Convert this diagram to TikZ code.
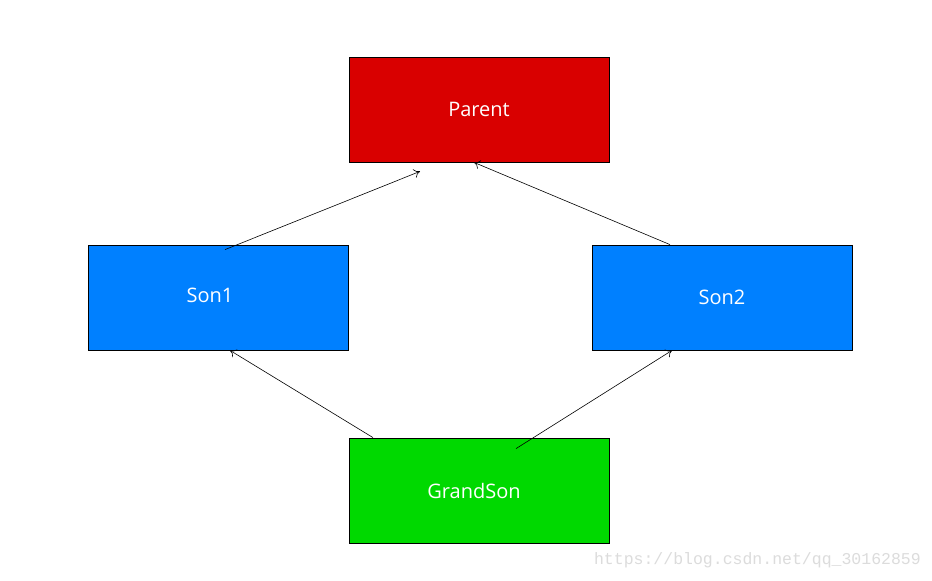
\documentclass[tikz,border=0pt]{standalone}
\usepackage{fontspec}
\setmainfont{Open Sans}
\newfontfamily\markfont{Liberation Mono}
\usepackage{tikz}
\usetikzlibrary{arrows.meta}
\definecolor{parentred}{HTML}{D90000}
\definecolor{sonblue}{HTML}{0080FF}
\definecolor{grandgreen}{HTML}{00D900}
\definecolor{markgray}{HTML}{DCDCDC}
\tikzset{>={To[length=6pt,width=9pt]}}
\tikzset{
  classbox/.style={draw=black, line width=0.8pt, minimum width=260pt, minimum height=105pt,
    inner sep=0pt, text=white, font=\fontsize{20}{24}\selectfont},
  inherit/.style={->, line width=0.6pt}
}

\begin{document}
\begin{tikzpicture}[x=1pt, y=-1pt]

  \useasboundingbox[fill=white] (0,0) rectangle (932,581);

  \node[classbox, fill=parentred] (parent) at (479,109.5) {Parent};
  \node[classbox, fill=sonblue] (son1) at (218,297.5) {\raisebox{5pt}{Son1\hspace{16pt}}};
  \node[classbox, fill=sonblue] (son2) at (722,297.5) {Son2};
  \node[classbox, fill=grandgreen] (grandson) at (479,490.5) {\hspace{-10pt}GrandSon};

  \draw[inherit] ([xshift=7pt, yshift=-5pt]son1.north) -- ([xshift=-59pt, yshift=-9pt]parent.south);
  \draw[inherit] ([xshift=-52pt]son2.north) -- ([xshift=-5pt]parent.south);
  \draw[inherit] ([xshift=-106pt]grandson.north) -- ([xshift=12pt]son1.south);
  \draw[inherit] ([xshift=37pt, yshift=-11pt]grandson.north) -- ([xshift=-50pt]son2.south);

  \node[text=markgray, font=\markfont\fontsize{16.5}{18}\selectfont, anchor=east, inner sep=0pt]
    (mark) at (921,560) {https://blog.csdn.net/qq\_30162859};

\end{tikzpicture}
\end{document}
